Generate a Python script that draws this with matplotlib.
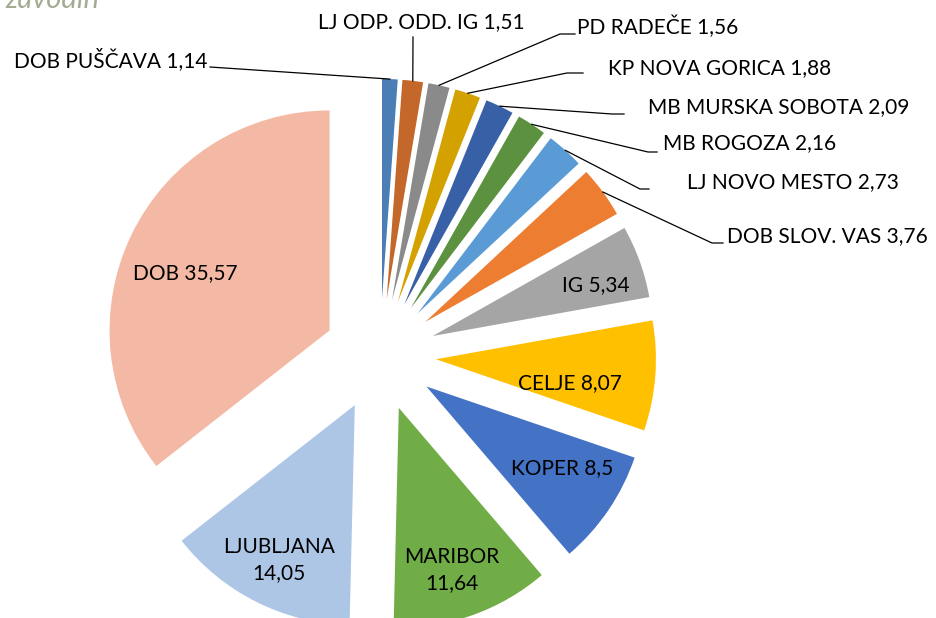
import numpy as np
import matplotlib
matplotlib.use("Agg")
import matplotlib.pyplot as plt

# data (clockwise from 12 o'clock)
names = ["DOB PUŠČAVA", "LJ ODP. ODD. IG", "PD RADEČE", "KP NOVA GORICA",
         "MB MURSKA SOBOTA", "MB ROGOZA", "LJ NOVO MESTO", "DOB SLOV. VAS",
         "IG", "CELJE", "KOPER", "MARIBOR", "LJUBLJANA", "DOB"]
values = [1.14, 1.51, 1.56, 1.88, 2.09, 2.16, 2.73, 3.76,
          5.34, 8.07, 8.5, 11.64, 14.05, 35.57]
colors = ["#4A7EB4", "#C4672A", "#8A8A8A", "#D4A200", "#3860A6", "#5B913F",
          "#5B9BD5", "#ED7D31", "#A5A5A5", "#FFC000", "#4472C4", "#70AD47",
          "#ADC6E6", "#F4B9A4"]

W, H = 937, 618
CX, CY, R = 380, 355, 220   # pie centre / radius in pixels


def px(x, y):
    return (x - CX) / R, (CY - y) / R


plt.rcParams['font.family'] = ['Lato', 'DejaVu Sans']
fig = plt.figure(figsize=(W / 100, H / 100), dpi=100)
ax = fig.add_axes([0, 0, 1, 1])

wedges, _ = ax.pie(values, colors=colors, startangle=90, counterclock=False,
                   explode=[0.255] * len(values), radius=1,
                   wedgeprops=dict(linewidth=0))
ax.set_xlim(-CX / R, (W - CX) / R)
ax.set_ylim(-(H - CY) / R, CY / R)
ax.set_aspect('equal')
ax.axis('off')

fs = 15
lbl = [f"{n} {str(v).replace('.', ',')}" for n, v in zip(names, values)]

# outside labels: text anchor (px), ha, elbow point (px), line end near text (px)
outside = {
    0: ((207, 60), 'right', None, (210, 67)),
    1: ((421, 22), 'center', None, (413, 37)),
    2: ((577, 27), 'left', (560, 34), (575, 34)),
    3: ((608, 68), 'left', (567, 73), (583, 73)),
    4: ((648, 107), 'left', (612, 114), (624, 114)),
    5: ((663, 143), 'left', (648, 152), (657, 152)),
    6: ((687, 182), 'left', (640, 189), (649, 189)),
    7: ((727, 236), 'left', (712, 243), (723, 243)),
}
for i, ((tx, ty), ha, elbow, end) in outside.items():
    w = wedges[i]
    mid = np.deg2rad((w.theta1 + w.theta2) / 2)
    ax_, ay_ = w.center[0] + w.r * np.cos(mid), w.center[1] + w.r * np.sin(mid)
    pts = [(ax_, ay_)]
    if elbow is not None:
        pts.append(px(*elbow))
    pts.append(px(*end))
    xs, ys = zip(*pts)
    ax.plot(xs, ys, color='black', lw=0.9)
    ax.text(*px(tx, ty), lbl[i], ha=ha, va='center', fontsize=fs, color='black')

# inside labels
inside = {8: (596, 285), 9: (570, 383), 10: (562, 468),
          11: (452, 570), 12: (279, 560), 13: (185, 273)}
for i, (tx, ty) in inside.items():
    s = lbl[i] if i not in (11, 12) else f"{names[i]}\n{str(values[i]).replace('.', ',')}"
    ax.text(*px(tx, ty), s, ha='center', va='center', fontsize=fs,
            color='black', linespacing=1.4)

fig.text(5 / W, 1 - 8 / H, "zavodih", fontsize=21, style='italic',
         color='#A2AC93', ha='left', va='baseline')

fig.savefig("out.png", dpi=100)
